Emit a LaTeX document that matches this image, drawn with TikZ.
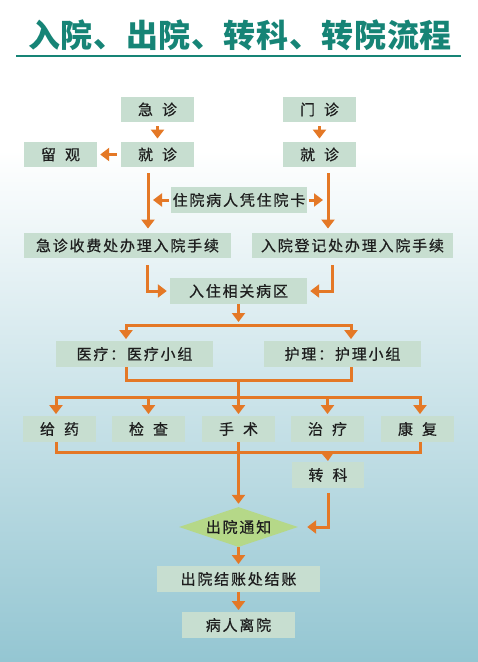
\documentclass[tikz,border=0pt]{standalone}
\usepackage{fontspec}
\setmainfont{Noto Sans CJK SC}
\newfontfamily\boxfont[LetterSpace=12,FakeBold=0.6]{Noto Sans CJK SC}
\newfontfamily\titlefont[LetterSpace=2]{Noto Sans CJK SC}
\usetikzlibrary{arrows.meta,shapes.geometric}
\definecolor{boxc}{RGB}{199,222,208}
\definecolor{arrc}{RGB}{228,120,38}
\definecolor{diac}{RGB}{181,216,136}
\definecolor{teal1}{RGB}{22,132,118}
\definecolor{txtc}{RGB}{30,30,30}
\definecolor{bgB}{RGB}{148,198,210}
\tikzset{
  box/.style={fill=boxc, inner sep=0pt, minimum height=25.5pt, text=txtc,
    font=\boxfont\fontsize{15}{15}\selectfont},
  tipA/.tip={Triangle[width=13pt,length=9pt]},
  ln/.style={draw=arrc, line width=3pt},
  arr/.style={ln, -tipA},
  dbl/.style={ln, tipA-tipA},
}
\newcommand{\gapsp}{\hspace{9pt}}
\begin{document}
\begin{tikzpicture}[x=1pt,y=-1pt]
\useasboundingbox (0,0) rectangle (478,662);
\fill[white] (0,0) rectangle (478,662);
\shade[top color=white, bottom color=bgB] (0,150) rectangle (478,662);

% title
\node[font=\titlefont\bfseries\fontsize{32}{32}\selectfont, text=teal1] (title) at (240,35) {入院、出院、转科、转院流程};
\coordinate (tl) at (16,56);
\coordinate (tr) at (461,56);
\draw[teal1, line width=1.6pt] (tl) -- (tr);

% nodes
\node[box, minimum width=73pt] (jz) at (157.5,109.5) {急\gapsp 诊};
\node[box, minimum width=73pt] (mz) at (319.5,109.5) {门\gapsp 诊};
\node[box, minimum width=73pt] (lg) at (60.5,154.5) {留\gapsp 观};
\node[box, minimum width=73pt] (jzl) at (157.5,154.5) {就\gapsp 诊};
\node[box, minimum width=73pt] (jzr) at (319.5,154.5) {就\gapsp 诊};
\node[box, minimum width=136pt] (card) at (239,200) {住院病人凭住院卡};
\node[box, minimum width=207pt] (fee) at (127.5,245.5) {急诊收费处办理入院手续};
\node[box, minimum width=201pt] (reg) at (352.5,245.5) {入院登记处办理入院手续};
\node[box, minimum width=137pt] (ward) at (238.5,291) {入住相关病区};
\node[box, minimum width=157pt] (med) at (134.5,354) {医疗：医疗小组};
\node[box, minimum width=157pt] (nur) at (342.5,354) {护理：护理小组};
\node[box, minimum width=73pt] (drug) at (59.5,429) {给\gapsp 药};
\node[box, minimum width=73pt] (exam) at (148.5,429) {检\gapsp 查};
\node[box, minimum width=73pt] (surg) at (238.5,429) {手\gapsp 术};
\node[box, minimum width=73pt] (treat) at (327.5,429) {治\gapsp 疗};
\node[box, minimum width=73pt] (rehab) at (417.5,429) {康\gapsp 复};
\node[box, minimum width=72pt] (trans) at (328,475) {转\gapsp 科};
\node[diamond, fill=diac, inner sep=0pt, aspect=3, minimum width=119pt, minimum height=40pt,
      text=txtc, font=\boxfont\fontsize{15}{15}\selectfont] (notice) at (238.5,527) {出院通知};
\node[box, minimum width=163pt] (bill) at (238.5,579) {出院结账处结账};
\node[box, minimum width=113pt] (leave) at (238.5,625) {病人离院};

% helper coordinates
\coordinate (xL) at (148,0);
\coordinate (xR) at (328,0);
\coordinate (xL2) at (147,0);
\coordinate (xR2) at (332,0);
\coordinate (b1L) at (126,325);
\coordinate (b1R) at (351,325);
\coordinate (b2L) at (126,380);
\coordinate (b2M) at (238.5,380);
\coordinate (b2R) at (351,380);
\coordinate (c1) at (56,397);
\coordinate (cM) at (238.5,397);
\coordinate (c5) at (420,397);
\coordinate (u1) at (56,452);
\coordinate (uT) at (327.5,452);
\coordinate (u5) at (420,452);

% connectors
\draw[arr, shorten <=4pt, shorten >=3pt] (jz) -- (jzl);
\draw[arr, shorten <=4pt, shorten >=3pt] (mz) -- (jzr);
\draw[arr, shorten <=4pt, shorten >=3pt] (jzl) -- (lg);
\draw[arr, shorten <=6pt, shorten >=4pt] (jzl.south -| xL) -- (fee.north -| xL);
\draw[arr, shorten <=6pt, shorten >=4pt] (jzr.south -| xR) -- (reg.north -| xR);
\draw[arr, shorten <=2pt, shorten >=5pt] (card.west) -- (card.west -| xL);
\draw[arr, shorten <=2pt, shorten >=5pt] (card.east) -- (card.east -| xR);
\draw[arr, shorten <=7pt, shorten >=3pt] (fee.south -| xL2) |- (ward.west);
\draw[arr, shorten <=7pt, shorten >=3pt] (reg.south -| xR2) |- (ward.east);
\draw[arr, shorten >=4pt] (ward.south) -- ([yshift=-1pt]b1L -| ward.south);
\draw[dbl, shorten <=2pt, shorten >=2pt] (med.north -| b1L) -- (b1L) -- (b1R) -- (nur.north -| b1R);
\draw[ln] (med.south -| b2L) -- (b2L) -- (b2R) -- (nur.south -| b2R);
\draw[ln] (b2M) -- (cM);
\draw[dbl, shorten <=2pt, shorten >=2pt] (drug.north -| c1) -- (c1) -- (c5) -- (rehab.north -| c5);
\draw[arr, shorten >=2pt] (cM -| exam.north) -- (exam.north);
\draw[arr, shorten >=2pt] (cM) -- (surg.north);
\draw[arr, shorten >=2pt] (cM -| treat.north) -- (treat.north);
\draw[ln] (drug.south -| u1) -- (u1) -- (u5) -- (rehab.south -| u5);
\draw[arr, shorten >=1pt] (uT) -- (trans.north);
\draw[arr, shorten >=3pt] (surg.south) -- (notice.north);
\draw[arr, shorten <=5pt, shorten >=9pt] (trans.south) |- (notice.east);
\draw[arr, shorten >=2pt] (notice.south) -- (bill.north);
\draw[arr, shorten >=2pt] (bill.south) -- (leave.north);
\end{tikzpicture}
\end{document}
